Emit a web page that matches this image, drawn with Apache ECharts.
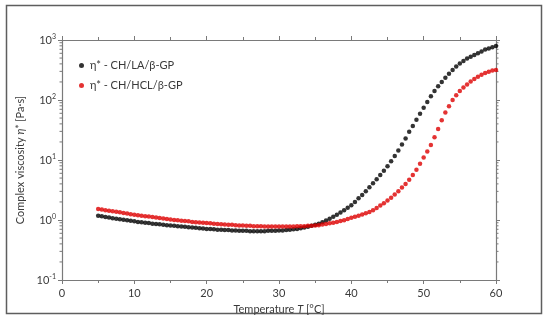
<!DOCTYPE html>
<html><head><meta charset="utf-8">
<script src="https://cdn.jsdelivr.net/npm/echarts@6/dist/echarts.min.js"></script>
<style>html,body{margin:0;padding:0;background:#fff}#c{width:550px;height:322px}</style>
</head><body><div id="c"></div>
<script>
var temps = [5,5.5,6,6.5,7,7.5,8,8.5,9,9.5,10,10.5,11,11.5,12,12.5,13,13.5,14,14.5,15,15.5,16,16.5,17,17.5,18,18.5,19,19.5,20,20.5,21,21.5,22,22.5,23,23.5,24,24.5,25,25.5,26,26.5,27,27.5,28,28.5,29,29.5,30,30.5,31,31.5,32,32.5,33,33.5,34,34.5,35,35.5,36,36.5,37,37.5,38,38.5,39,39.5,40,40.5,41,41.5,42,42.5,43,43.5,44,44.5,45,45.5,46,46.5,47,47.5,48,48.5,49,49.5,50,50.5,51,51.5,52,52.5,53,53.5,54,54.5,55,55.5,56,56.5,57,57.5,58,58.5,59,59.5,60];
var etaLA = [1.18,1.15,1.12,1.10,1.07,1.05,1.03,1.01,0.99,0.97,
0.95,0.93,0.92,0.90,0.89,0.87,0.86,0.85,0.83,0.82,
0.81,0.80,0.79,0.78,0.77,0.76,0.75,0.74,0.73,0.72,
0.71,0.71,0.70,0.69,0.69,0.68,0.68,0.67,0.67,0.66,
0.66,0.66,0.65,0.65,0.65,0.65,0.65,0.66,0.66,0.66,
0.67,0.67,0.68,0.69,0.70,0.71,0.73,0.75,0.77,0.80,
0.83,0.87,0.92,0.98,1.05,1.13,1.22,1.33,1.45,1.60,
1.76,2.0,2.3,2.6,3.0,3.5,4.1,4.8,5.6,6.6,
7.9,9.5,11.7,14.4,18.2,22.9,29.5,37,47,59,
74,93,115,141,170,200,234,275,316,363,
407,447,490,525,562,603,646,692,724,759,794];
var etaHCL = [1.52,1.49,1.46,1.43,1.40,1.37,1.34,1.31,1.28,1.25,
1.22,1.20,1.18,1.16,1.14,1.12,1.10,1.08,1.06,1.04,
1.02,1.00,0.99,0.97,0.96,0.95,0.93,0.92,0.91,0.90,
0.89,0.88,0.87,0.86,0.85,0.84,0.83,0.83,0.82,0.81,
0.81,0.80,0.80,0.79,0.79,0.79,0.78,0.78,0.78,0.78,
0.78,0.78,0.78,0.78,0.78,0.79,0.79,0.79,0.80,0.80,
0.81,0.82,0.84,0.86,0.88,0.90,0.93,0.96,0.99,1.04,
1.09,1.13,1.18,1.24,1.30,1.36,1.46,1.58,1.74,1.91,
2.11,2.34,2.66,3.0,3.47,4.0,4.7,5.6,6.9,8.7,
11,13.8,17.8,24,33,46,62,79,100,120,
141,162,182,204,224,245,263,282,295,309,316];
var seriesNames = ['η* - CH/LA/β-GP', 'η* - CH/HCL/β-GP'];
var xTicks = [0,10,20,30,40,50,60];
var yTicks = [0.1,1,10,100,1000];

var FONT = 'Lato';
var axisCol = '#7a7a7a';
var txtCol = '#3a3a3a';
function pairs(xs, ys){ return xs.map(function(x,i){ return [x, ys[i]]; }); }
var chart = echarts.init(document.getElementById('c'), null, {renderer:'canvas'});
function yLabel(v){
  var e = Math.round(Math.log10(v));
  return '{b|10}{s|' + e + '}';
}
var xAxisBase = {
  type:'value', min:xTicks[0], max:xTicks[xTicks.length-1], interval:10,
  axisLine:{show:true, lineStyle:{color:axisCol, width:1.2}},
  axisTick:{show:true, inside:false, length:4, lineStyle:{color:axisCol}},
  minorTick:{show:true, splitNumber:2, length:3, lineStyle:{color:axisCol}},
  splitLine:{show:false}
};
var yAxisBase = {
  type:'log', logBase:10, min:yTicks[0], max:yTicks[yTicks.length-1],
  axisLine:{show:true, onZero:false, lineStyle:{color:axisCol, width:1.2}},
  axisTick:{show:true, inside:false, length:4, lineStyle:{color:axisCol}},
  splitLine:{show:false}
};
var option = {
  animation:false,
  backgroundColor:'#fff',
  grid:{left:62, right:54, top:40, bottom:42, containLabel:false},
  legend:{
    orient:'vertical', left:74, top:55, itemGap:9, itemWidth:5, itemHeight:5,
    icon:'circle',
    textStyle:{fontFamily:FONT, fontSize:11, color:txtCol, padding:[0,0,0,1]},
    data:seriesNames
  },
  xAxis:[
    Object.assign({}, xAxisBase, {
      position:'bottom',
      axisLabel:{show:true, fontFamily:FONT, fontSize:11, color:txtCol, margin:8},
      name:'{a|Temperature }{i|T}{a| [°C]}', nameLocation:'middle', nameGap:21,
      nameTextStyle:{rich:{a:{fontFamily:FONT, fontSize:11, color:txtCol}, i:{fontFamily:FONT, fontSize:11, color:txtCol, fontStyle:'italic'}}}
    }),
    Object.assign({}, xAxisBase, {position:'top', axisLabel:{show:false}})
  ],
  yAxis:[
    Object.assign({}, yAxisBase, {
      position:'left',
      axisLabel:{show:true, formatter:yLabel, margin:6,
        rich:{b:{fontFamily:FONT, fontSize:11, color:txtCol}, s:{fontFamily:FONT, fontSize:7, color:txtCol, verticalAlign:'top', padding:[0,0,6,0]}}},
      name:'{a|Complex viscosity }{i|η*}{a| [Pa·s]}', nameLocation:'middle', nameGap:34, nameRotate:90,
      nameTextStyle:{rich:{a:{fontFamily:FONT, fontSize:11, color:txtCol}, i:{fontFamily:FONT, fontSize:11, color:txtCol, fontStyle:'italic'}}}
    }),
    Object.assign({}, yAxisBase, {position:'right', axisLabel:{show:false}})
  ],
  series:[
    {name:seriesNames[0], type:'scatter', data:pairs(temps, etaLA), symbolSize:4.5,
     itemStyle:{color:'#000000'}, xAxisIndex:0, yAxisIndex:0},
    {name:seriesNames[1], type:'scatter', data:pairs(temps, etaHCL), symbolSize:4.5,
     itemStyle:{color:'#dd0000'}, xAxisIndex:0, yAxisIndex:0}
  ]
};
chart.setOption(option);

// minor log ticks on left and right axes + outer frame
var g = [];
var xl = chart.convertToPixel({xAxisIndex:0}, xTicks[0]);
var xr = chart.convertToPixel({xAxisIndex:0}, xTicks[xTicks.length-1]);
for (var d = -1; d < 3; d++) {
  for (var k = 2; k <= 9; k++) {
    var y = chart.convertToPixel({yAxisIndex:0}, k*Math.pow(10,d));
    g.push({type:'line', shape:{x1:xl-2.5, y1:y, x2:xl, y2:y}, style:{stroke:axisCol, lineWidth:1}});
    g.push({type:'line', shape:{x1:xr, y1:y, x2:xr+2.5, y2:y}, style:{stroke:axisCol, lineWidth:1}});
  }
}
g.push({type:'rect', shape:{x:6.5, y:5.5, width:535, height:308}, style:{fill:null, stroke:'#5e5e5e', lineWidth:1.5}, z:-1});
chart.setOption({graphic:g});
</script>
</body></html>
